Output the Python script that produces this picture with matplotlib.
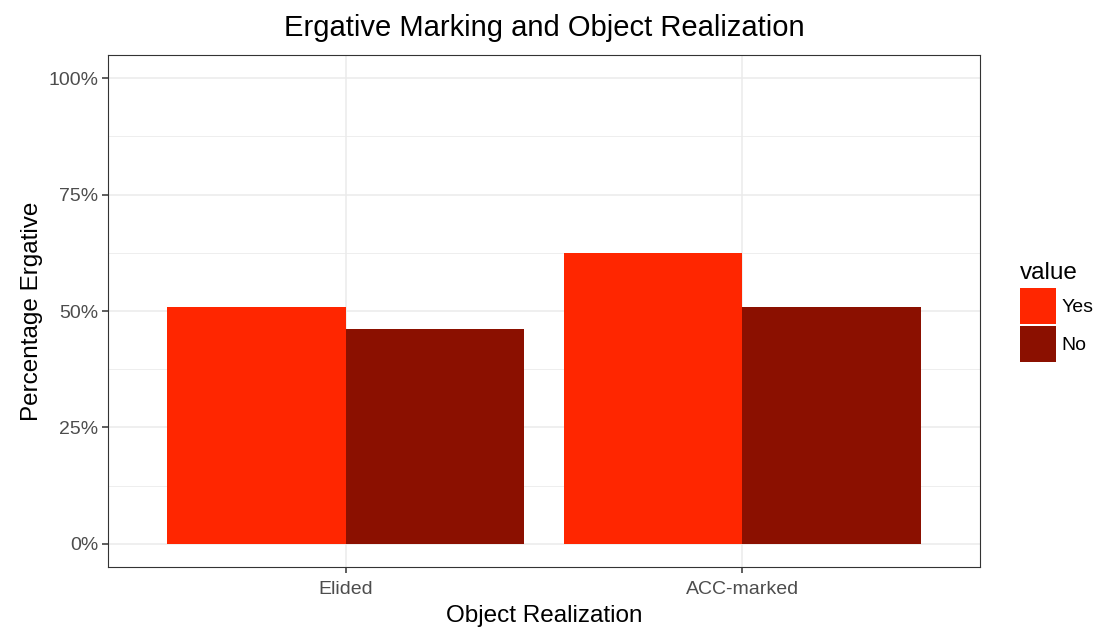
import matplotlib
matplotlib.use("Agg")
import matplotlib.pyplot as plt
import numpy as np
from matplotlib.ticker import FixedLocator, PercentFormatter

plt.rcParams["font.family"] = ["Liberation Sans", "DejaVu Sans"]

# data
categories = ["Elided", "ACC-marked"]
groups = ["Yes", "No"]
yes_vals = [0.509, 0.625]
no_vals = [0.461, 0.509]
colors = {"Yes": "#FF2600", "No": "#8B1000"}

fig = plt.figure(figsize=(10.98, 6.27), dpi=100)
ax = fig.add_axes([108 / 1098, 60 / 627, 872 / 1098, 512 / 627])

x = np.arange(1, len(categories) + 1)
w = 0.45
ax.bar(x - w / 2, yes_vals, width=w, color=colors["Yes"], label="Yes", zorder=3)
ax.bar(x + w / 2, no_vals, width=w, color=colors["No"], label="No", zorder=3)

ax.set_xlim(0.4, 2.6)
ax.set_ylim(-0.05, 1.05)
ax.set_xticks(x)
ax.set_xticklabels(categories)
ax.set_yticks([0, 0.25, 0.5, 0.75, 1.0])
ax.yaxis.set_minor_locator(FixedLocator([0.125, 0.375, 0.625, 0.875]))
ax.xaxis.set_minor_locator(FixedLocator([]))
ax.yaxis.set_major_formatter(PercentFormatter(1.0, decimals=0))

# ggplot-ish theme_bw
ax.grid(which="major", color="#EBEBEB", linewidth=1.1, zorder=0)
ax.grid(which="minor", axis="y", color="#EBEBEB", linewidth=0.6, zorder=0)
for s in ax.spines.values():
    s.set_color("#333333")
    s.set_linewidth(0.8)
ax.tick_params(axis="both", which="major", color="#333333", length=4, width=1.1,
               labelcolor="#4D4D4D", labelsize=14, pad=3)
ax.tick_params(axis="x", which="major", pad=6)
ax.tick_params(axis="y", which="minor", length=0)

ax.set_xlabel("Object Realization", fontsize=17.5, labelpad=5)
ax.set_ylabel("Percentage Ergative", fontsize=17.5, labelpad=4)
# title centred over the panel, like ggplot
ax.set_title("Ergative Marking and Object Realization", fontsize=21, pad=14)

leg = ax.legend(title="value", loc="upper left", bbox_to_anchor=(1006 / 1098, 1 - 248 / 627),
                bbox_transform=fig.transFigure, frameon=False, fontsize=14,
                title_fontsize=17.5, handlelength=1.85, handleheight=2.48,
                labelspacing=0.1, handletextpad=0.3, borderpad=0.2)
leg._legend_box.align = "left"
leg._legend_box.sep = 3.2

fig.savefig("out.png", dpi=100)
